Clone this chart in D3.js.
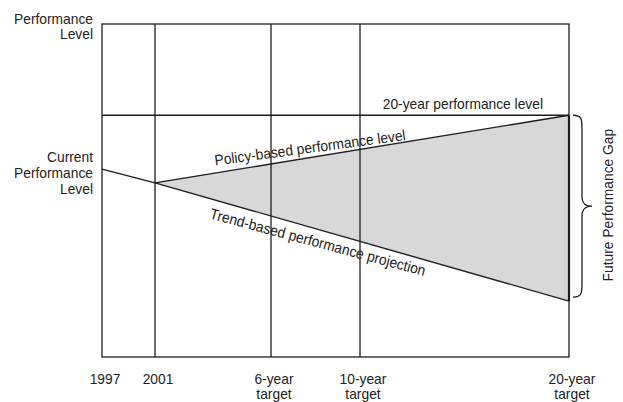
<!DOCTYPE html>
<html>
<head>
<meta charset="utf-8">
<script src="https://cdn.jsdelivr.net/npm/d3@7"></script>
<style>
  html, body { margin: 0; padding: 0; background: #fff; }
  svg text { font-family: "Liberation Sans", Arial, sans-serif; fill: #222; }
</style>
</head>
<body>
<svg id="chart" width="623" height="402"></svg>
<script>
// Milestones along the horizontal axis
const years = [1997, 2001, 2007, 2011, 2021];
const tickLabels = [["1997"], ["2001"], ["6-year", "target"], ["10-year", "target"], ["20-year", "target"]];

// Performance level (index 0–100)
const currentTrend = [{ year: 1997, value: 56.4 }, { year: 2001, value: 52.3 }];
const policyPath   = [{ year: 2001, value: 52.3 }, { year: 2021, value: 72.6 }];
const trendPath    = [{ year: 2001, value: 52.3 }, { year: 2021, value: 16.8 }];
const targetLevel  = 72.6;

(function () {
const svg = d3.select("#chart");
const ink = "#1e1e1e";
const fontSize = 15;
const narrow = 0.92;   // condensed lettering

const plotL = 102, plotR = 569, plotT = 24, plotB = 357;

// Milestones are not evenly spaced in time, so the axis is piecewise.
const x = d3.scaleLinear()
  .domain(years)
  .range([plotL, plotL + 53, plotL + 169, plotL + 258, plotR]);
const y = d3.scaleLinear().domain([0, 100]).range([plotB, plotT]);

// Text block: lines stacked at lineH, placed at (tx, ty) and rotated by angle
function label(lines, tx, ty, anchor, angle, lineH) {
  const g = svg.append("g")
    .attr("transform", `translate(${tx},${ty}) rotate(${angle || 0}) scale(${narrow},1)`);
  const t = g.append("text").attr("text-anchor", anchor).attr("font-size", fontSize);
  lines.forEach((s, i) => t.append("tspan").attr("x", 0).attr("y", i * (lineH || 0)).text(s));
  return g;
}

// Gap area between policy and trend paths
const gap = [policyPath[0], policyPath[1], trendPath[1]];
svg.append("path")
  .attr("d", d3.line().x(d => x(d.year)).y(d => y(d.value))(gap) + "Z")
  .attr("fill", "#d8d8d8")
  .attr("stroke", "none");

// Frame
svg.append("rect")
  .attr("x", x(years[0])).attr("y", y(100))
  .attr("width", x(years[4]) - x(years[0]))
  .attr("height", y(0) - y(100))
  .attr("fill", "none").attr("stroke", ink).attr("stroke-width", 1.3);

// Milestone gridlines
svg.selectAll("line.grid")
  .data(years.slice(1, 4))
  .join("line")
  .attr("class", "grid")
  .attr("x1", d => x(d)).attr("x2", d => x(d))
  .attr("y1", y(100)).attr("y2", y(0))
  .attr("stroke", ink).attr("stroke-width", 1.3);

// 20-year performance level
svg.append("line")
  .attr("x1", x(years[0])).attr("x2", x(years[4]))
  .attr("y1", y(targetLevel)).attr("y2", y(targetLevel))
  .attr("stroke", ink).attr("stroke-width", 1.3);

const line = d3.line().x(d => x(d.year)).y(d => y(d.value));
[currentTrend, policyPath, trendPath].forEach(s => {
  svg.append("path").attr("d", line(s))
    .attr("fill", "none").attr("stroke", ink).attr("stroke-width", 1.4);
});
// Closing edge of the gap at the 20-year mark
svg.append("line")
  .attr("x1", x(2021)).attr("x2", x(2021))
  .attr("y1", y(policyPath[1].value)).attr("y2", y(trendPath[1].value))
  .attr("stroke", ink).attr("stroke-width", 2.2);

// Axis tick labels
years.forEach((yr, i) => label(tickLabels[i], x(yr) + 3, 383.5, "middle", 0, 15.5));

// Left-side labels
label(["Performance", "Level"], 93, 24, "end", 0, 15.5);
label(["Current", "Performance", "Level"], 93, 161.7, "end", 0, 16.3);

// 20-year level label
label(["20-year performance level"], 543, y(targetLevel) - 6.5, "end", 0);

// Path labels along the lines
function pathLabel(series, frac, angle, off, txt) {
  const p0 = [x(series[0].year), y(series[0].value)];
  const p1 = [x(series[1].year), y(series[1].value)];
  const px = p0[0] + (p1[0] - p0[0]) * frac;
  const py = p0[1] + (p1[1] - p0[1]) * frac;
  label([txt], px, py + off, "middle", angle);
}
pathLabel(policyPath, 0.376, -7.6, -4.6, "Policy-based performance level");
pathLabel(trendPath, 0.39, 15.0, 18.2, "Trend-based performance projection");

// Brace spanning the future gap
const by0 = y(policyPath[1].value), by1 = y(trendPath[1].value) - 4;
const bm = (by0 + by1) / 2;
const bx = x(2021) + 4, bv = bx + 9, bt = bx + 19;
svg.append("path")
  .attr("d", `M${bx},${by0} C${bv},${by0} ${bv},${by0 + 4} ${bv},${by0 + 14}
    L${bv},${bm - 10} C${bv},${bm - 2} ${bv + 4},${bm} ${bt},${bm}
    C${bv + 4},${bm} ${bv},${bm + 2} ${bv},${bm + 10}
    L${bv},${by1 - 14} C${bv},${by1 - 4} ${bv},${by1} ${bx},${by1}`)
  .attr("fill", "none").attr("stroke", ink).attr("stroke-width", 1.3);

label(["Future Performance Gap"], 612.5, bm - 1, "middle", -90);
})();
</script>
</body>
</html>
